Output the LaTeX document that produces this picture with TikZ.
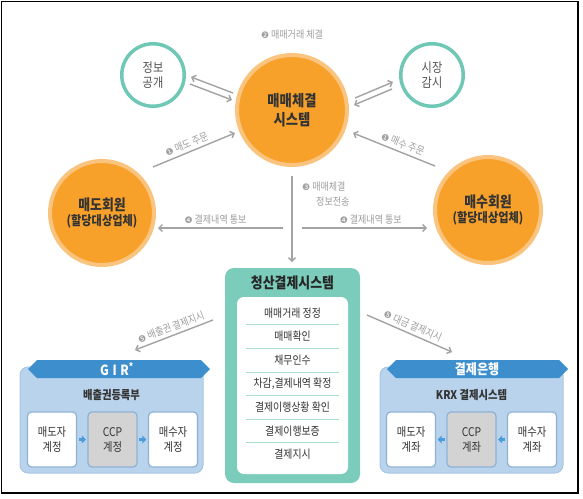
\documentclass[tikz,border=0pt]{standalone}
\usepackage{fontspec}
\setmainfont[FakeStretch=0.86]{Noto Sans CJK KR}
\newfontfamily\dejavu{DejaVu Sans}
\usetikzlibrary{arrows.meta,calc}
\definecolor{orng}{HTML}{F7A12B}
\definecolor{orhalo}{HTML}{FAC47E}
\definecolor{tealc}{HTML}{6FC7B6}
\definecolor{tealbox}{HTML}{7BCCBB}
\definecolor{tealline}{HTML}{A9DCD0}
\definecolor{garr}{HTML}{A3A3A3}
\definecolor{gtxt}{HTML}{9E9E9E}
\definecolor{panelc}{HTML}{B8D3EB}
\definecolor{panelb}{HTML}{A8C7E4}
\definecolor{bannerc}{HTML}{3C8ECC}
\definecolor{boxb}{HTML}{8EB2D5}
\definecolor{ccpc}{HTML}{D3D3D3}
\definecolor{barr}{HTML}{4C9CDA}
\definecolor{dtxt}{HTML}{333333}
\newcommand{\cnum}[1]{{\dejavu\fontsize{9}{10}\selectfont #1}}
\begin{document}
\begin{tikzpicture}[x=1pt,y=-1pt,
  orc/.style={circle,draw=orhalo,line width=4pt,fill=orng,inner sep=0pt,align=center,text=dtxt,font=\fontsize{13}{15}\bfseries},
  tlc/.style={circle,draw=tealc,line width=3.5pt,fill=white,inner sep=0pt,minimum size=62.5pt,align=center,text=dtxt!85,font=\fontsize{13}{15}\selectfont},
  garrow/.style={draw=garr,line width=1.4pt,-{Straight Barb[length=3.5pt,width=7pt]}},
  glabel/.style={text=gtxt,font=\fontsize{10.5}{12}\selectfont,inner sep=1pt},
  item/.style={text=dtxt,font=\fontsize{11.5}{13}\selectfont},
  sep/.style={draw=tealline,line width=0.8pt},
  panel/.style={draw=panelb,line width=1pt,fill=panelc,rounded corners=8pt,minimum width=183pt,minimum height=106pt,inner sep=0pt},
  acct/.style={draw=boxb,line width=1.2pt,fill=white,rounded corners=4pt,minimum width=49pt,minimum height=55pt,inner sep=0pt,align=center,text=dtxt,font=\fontsize{12}{15}\selectfont},
  ccpbox/.style={acct,fill=ccpc},
  barrow/.style={draw=barr,line width=2.6pt,-{Triangle[length=4pt,width=7.5pt]},shorten <=1.5pt,shorten >=1.5pt},
  bantext/.style={text=white,font=\fontsize{14}{16}\bfseries},
  sub/.style={text=dtxt,font=\fontsize{12}{14}\bfseries}
]
\useasboundingbox (0,0) rectangle (583,498);
\fill[white] (0,0) rectangle (583,498);
\draw[line width=1.3pt] (1.7,1.7) rectangle (578,493);

% top label
\node[glabel] (l2) at (292,35) {\cnum{❷} 매매거래 체결};

% circles
\node[tlc] (info) at (153,75) {정보\\공개};
\node[tlc] (mon) at (432,75) {시장\\감시};
\node[orc,minimum size=110pt,font=\fontsize{15.5}{19}\bfseries] (mc) at (292,110) {매매체결\\시스템};
\node[orc,minimum size=104pt] (sell) at (102,213) {{\fontsize{15}{17}\bfseries 매도회원}\\(할당대상업체)};
\node[orc,minimum size=106pt] (buy) at (488,210) {{\fontsize{15}{17}\bfseries 매수회원}\\(할당대상업체)};

% double arrows
\coordinate (d1a) at (233,93); \coordinate (d1b) at (191,77);
\coordinate (d2a) at (190,84); \coordinate (d2b) at (232,100);
\draw[garrow] (d1a) -- (d1b);
\draw[garrow] (d2a) -- (d2b);
\coordinate (d3a) at (355,98); \coordinate (d3b) at (393,82);
\coordinate (d4a) at (392,89); \coordinate (d4b) at (354,105);
\draw[garrow] (d3a) -- (d3b);
\draw[garrow] (d4a) -- (d4b);

% orders
\coordinate (a1s) at (153,167); \coordinate (a1e) at (235,133);
\draw[garrow] (a1s) -- node[glabel,sloped,above=2pt,pos=0.45] (l1a) {\cnum{❶} 매도 주문} (a1e);
\coordinate (a2s) at (435,166); \coordinate (a2e) at (353,133);
\draw[garrow] (a2s) -- node[glabel,sloped,above=2pt,pos=0.43] (l1b) {\cnum{❶} 매수 주문} (a2e);

% vertical
\coordinate (v1) at (292,176); \coordinate (v2) at (292,262);
\draw[garrow] (v1) -- (v2);
\node[glabel,anchor=west] (l3a) at (301,187) {\cnum{❸} 매매체결};
\node[glabel,anchor=west] (l3b) at (315,202) {정보전송};

% settlement notices
\coordinate (b1s) at (283,228); \coordinate (b1e) at (158,228);
\draw[garrow] (b1s) -- node[glabel,above=2pt,pos=0.54] (l4a) {\cnum{❹} 결제내역 통보} (b1e);
\coordinate (b2s) at (302,228); \coordinate (b2e) at (427,228);
\draw[garrow] (b2s) -- node[glabel,above=2pt,pos=0.55] (l4b) {\cnum{❹} 결제내역 통보} (b2e);

% clearing system
\node[fill=tealbox,rounded corners=9pt,minimum width=135pt,minimum height=215pt,inner sep=0pt] (clr) at (292.5,375.5) {};
\node[fill=white,rounded corners=7pt,minimum width=111pt,minimum height=177pt,inner sep=0pt] (clri) at (292.5,385.5) {};
\node[text=black!85,font=\fontsize{15}{17}\bfseries] (clrt) at (292.5,283) {청산결제시스템};
\foreach \t [count=\i from 0] in {매매거래 정정,매매확인,채무인수,{차감,결제내역 확정},결제이행상황 확인,결제이행보증,결제지시}{
  \node[item] (it\i) at (292.5,313+23.6*\i) {\t};
}
\foreach \i in {0,...,5}{
  \draw[sep] (246,324.8+23.6*\i) -- (339,324.8+23.6*\i);
}

% settlement instruction arrows
\coordinate (c1s) at (213,320); \coordinate (c1e) at (135,350);
\draw[garrow] (c1s) -- node[glabel,sloped,above=2pt,pos=0.5] (l5a) {\cnum{❺} 배출권 결제지시} (c1e);
\coordinate (c2s) at (367,315); \coordinate (c2e) at (452,352);
\draw[garrow] (c2s) -- node[glabel,sloped,above=2pt,pos=0.5] (l5b) {\cnum{❺} 대금 결제지시} (c2e);

% left panel (GIR)
\node[panel] (lp) at (111.5,420) {};
\fill[bannerc] (28,369) -- (37,360) -- (201,360) -- (210,369) -- (201,378) -- (37,378) -- cycle;
\node[bantext] (lbt) at (117,369) {{\addfontfeature{LetterSpace=25}GIR}\textsuperscript{*}};
\node[sub] (lsub) at (111.5,395) {배출권등록부};
\node[acct] (lb1) at (52,439.5) {매도자\\계정};
\node[ccpbox] (lb2) at (112.5,439.5) {CCP\\계정};
\node[acct] (lb3) at (173,439.5) {매수자\\계정};
\draw[barrow] (lb1.east) -- (lb2.west);
\draw[barrow] (lb2.east) -- (lb3.west);

% right panel (bank)
\node[panel] (rp) at (471.5,420) {};
\fill[bannerc] (387,369) -- (396,360) -- (559,360) -- (568,369) -- (559,378) -- (396,378) -- cycle;
\node[bantext] (rbt) at (477,369) {결제은행};
\node[sub] (rsub) at (471.5,395) {KRX 결제시스템};
\node[acct] (rb1) at (411,439.5) {매도자\\계좌};
\node[ccpbox] (rb2) at (471.5,439.5) {CCP\\계좌};
\node[acct] (rb3) at (532,439.5) {매수자\\계좌};
\draw[barrow] (rb2.west) -- (rb1.east);
\draw[barrow] (rb3.west) -- (rb2.east);
\end{tikzpicture}
\end{document}
